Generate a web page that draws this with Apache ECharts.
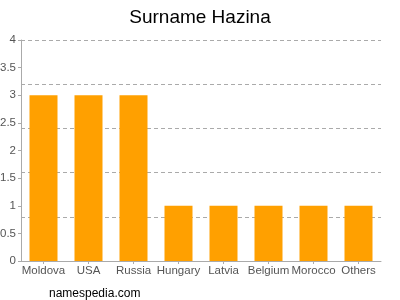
<!DOCTYPE html>
<html><head><meta charset="utf-8">
<script src="https://cdn.jsdelivr.net/npm/echarts@6/dist/echarts.min.js"></script>
<style>html,body{margin:0;padding:0;background:#fff}#c{width:400px;height:300px}</style>
</head><body><div id="c"></div>
<script>
const categories = ['Moldova','USA','Russia','Hungary','Latvia','Belgium','Morocco','Others'];
const values = [3,3,3,1,1,1,1,1];
const chart = echarts.init(document.getElementById('c'));
chart.setOption({
  animation:false,
  title:[{text:'Surname Hazina',left:'center',top:3,textStyle:{fontFamily:'Liberation Sans, Arial',fontSize:19,fontWeight:'normal',color:'#000'}},
         {text:'namespedia.com',left:44,top:283,textStyle:{fontFamily:'Liberation Sans, Arial',fontSize:12,fontWeight:'normal',color:'#000'}}],
  grid:{left:21,right:19,top:40,bottom:39,containLabel:false,outerBoundsMode:'none'},
  xAxis:{type:'category',data:categories,
    axisLine:{lineStyle:{color:'#aaa'}},axisTick:{show:true,alignWithLabel:true,length:3,lineStyle:{color:'#aaa'}},
    axisLabel:{color:'#555',fontSize:11.5,fontFamily:'Liberation Sans, Arial',margin:4,interval:0}},
  yAxis:[{type:'value',min:0,max:4,interval:0.5,
    axisLine:{show:true,lineStyle:{color:'#aaa'}},axisTick:{show:true,length:3,lineStyle:{color:'#aaa'}},
    axisLabel:{color:'#555',fontSize:11.5,fontFamily:'Liberation Sans, Arial',margin:5},splitLine:{show:false}},
    {type:'value',min:0,max:4,interval:0.8,position:'left',
    axisLine:{show:false},axisTick:{show:false},axisLabel:{show:false},
    splitLine:{show:true,lineStyle:{color:'#aaa',type:[4,3]}}}],
  series:[{type:'bar',data:values,barWidth:28,itemStyle:{color:'#ffa000'}}]
});
</script></body></html>
